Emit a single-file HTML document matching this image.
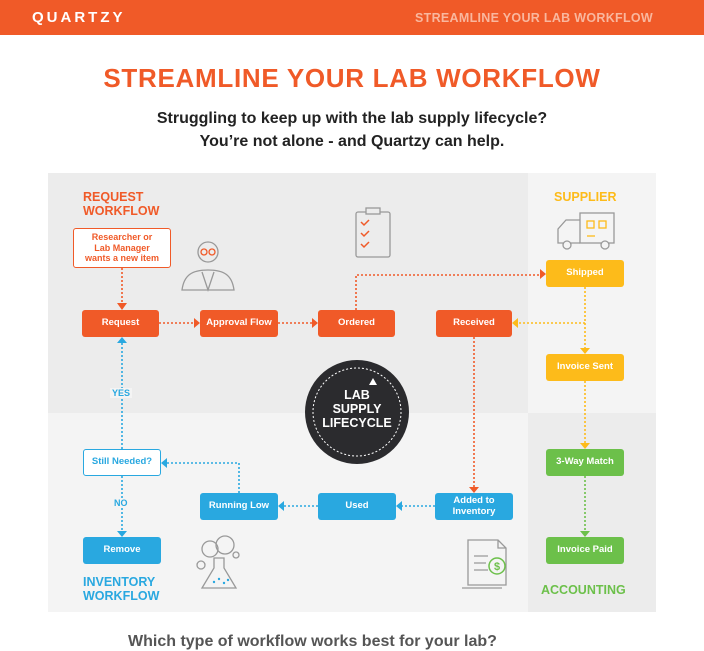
<!DOCTYPE html>
<html><head><meta charset="utf-8"><style>
*{margin:0;padding:0;box-sizing:border-box}
body{width:704px;height:640px;overflow:hidden;background:#fff;font-family:"Liberation Sans",sans-serif;position:relative}
.a{position:absolute}
.b{position:absolute;display:flex;align-items:center;justify-content:center;text-align:center;color:#fff;font-weight:bold;font-size:9.5px;border-radius:3px;line-height:1.15}
.o{background:#f05a28}.y{background:#fdbb1a}.g{background:#6cc04a}.bl{background:#29a8e0}
.h{font-weight:bold;font-size:12.5px;line-height:14px}
</style></head><body>
<div class="a" style="left:0;top:0;width:704px;height:35px;background:#f05a28"></div>
<div class="a" style="left:32px;top:9px;color:#fff;font-weight:bold;font-size:15px;letter-spacing:3px">QUARTZY</div>
<div class="a" style="left:415px;top:11px;color:#f9b79e;font-weight:bold;font-size:12.5px;letter-spacing:.3px">STREAMLINE YOUR LAB WORKFLOW</div>
<div class="a" style="left:0;width:704px;top:63px;text-align:center;color:#f05a28;font-weight:bold;font-size:26px;letter-spacing:.7px">STREAMLINE YOUR LAB WORKFLOW</div>
<div class="a" style="left:0;width:704px;top:107px;text-align:center;color:#222;font-weight:bold;font-size:16px;line-height:23px">Struggling to keep up with the lab supply lifecycle?<br>You’re not alone - and Quartzy can help.</div>

<div class="a" style="left:48px;top:173px;width:480px;height:240px;background:#ececec"></div>
<div class="a" style="left:48px;top:413px;width:480px;height:199px;background:#f4f4f4"></div>
<div class="a" style="left:528px;top:173px;width:128px;height:240px;background:#f4f4f4"></div>
<div class="a" style="left:528px;top:413px;width:128px;height:199px;background:#ececec"></div>

<svg class="a" style="left:0;top:0" width="704" height="640">
<g fill="none" stroke-width="1.6" stroke-dasharray="2,2">
<path d="M122 268V304" stroke="#f05a28"/>
<path d="M159 323H194M278 323H312" stroke="#f05a28"/>
<path d="M356 310V275H540" stroke="#f05a28"/>
<path d="M474 337V487" stroke="#f05a28"/>
<path d="M585 287V348M585 381V443M585 323H518" stroke="#fdbb1a"/>
<path d="M585 476V531" stroke="#6cc04a"/>
<path d="M435 506H402M318 506H284M239 493V463H167M122 449V343M122 476V531" stroke="#29a8e0"/>
</g>
<g>
<path d="M117 303h10l-5 7z M194 318v10l6-5z M312 318v10l6-5z M540 269v10l6-5z M469 487h10l-5 6z" fill="#f05a28"/>
<path d="M580 348h10l-5 6z M580 443h10l-5 6z M518 318v10l-6-5z" fill="#fdbb1a"/>
<path d="M580 531h10l-5 6z" fill="#6cc04a"/>
<path d="M402 501v10l-6-5z M284 501v10l-6-5z M167 458v10l-6-5z M117 531h10l-5 6z M117 343h10l-5-6z" fill="#29a8e0"/>
</g>
<circle cx="357" cy="412" r="52" fill="#2b2b2e"/>
<circle cx="357" cy="412" r="44" fill="none" stroke="#fff" stroke-width="1" stroke-dasharray="2,2"/>
<path d="M373 378l4 7h-8z" fill="#fff"/>
<g fill="none" stroke="#999" stroke-width="1.3">
<circle cx="208" cy="252" r="10"/>
<path d="M182 290c2-15 10-20 26-20s24 5 26 20z M202 272l6 18 6-18"/>
</g>
<g fill="none" stroke="#f05a28" stroke-width="1.3"><circle cx="204" cy="252" r="3"/><circle cx="212" cy="252" r="3"/></g>
<rect x="356" y="212" width="34" height="45" rx="2" fill="none" stroke="#999" stroke-width="1.3"/>
<rect x="366" y="208" width="14" height="6" fill="#ececec" stroke="#999" stroke-width="1.3"/>
<path d="M361 222l3 3 5-5M361 233l3 3 5-5M361 244l3 3 5-5" stroke="#f05a28" stroke-width="1.5" fill="none"/>
<g fill="none" stroke="#999" stroke-width="1.3">
<rect x="580" y="213" width="34" height="30"/>
<path d="M580 243h-22v-14l8-9h14"/>
<circle cx="567" cy="245" r="4" fill="#f4f4f4"/><circle cx="605" cy="245" r="4" fill="#f4f4f4"/>
</g>
<g fill="none" stroke="#fdbb1a" stroke-width="1.3"><rect x="587" y="221" width="7" height="7"/><rect x="599" y="221" width="7" height="7"/><path d="M587 236h8"/></g>
<g fill="none" stroke="#999" stroke-width="1.3">
<circle cx="210" cy="549" r="8"/><circle cx="225" cy="545" r="9"/><circle cx="201" cy="565" r="4"/><circle cx="236" cy="555" r="3"/>
<path d="M214 558h10v10l12 20h-34l12-20z"/>
</g>
<g fill="#29a8e0"><circle cx="214" cy="582" r="1.2"/><circle cx="219" cy="579" r="1.2"/><circle cx="224" cy="583" r="1.2"/><circle cx="228" cy="580" r="1.2"/></g>
<g fill="none" stroke="#999" stroke-width="1.3">
<path d="M468 540h30l8 8v37h-38z M498 540v8h8"/>
<path d="M474 556h14M474 563h12M474 570h14"/>
<path d="M462 588h40"/>
</g>
<circle cx="497" cy="566" r="8" fill="#f4f4f4" stroke="#6cc04a" stroke-width="1.5"/>
<text x="497" y="570" text-anchor="middle" font-size="11" font-weight="bold" fill="#6cc04a" font-family="Liberation Sans">$</text>
</svg>

<div class="a h" style="left:83px;top:190px;color:#f05a28">REQUEST<br>WORKFLOW</div>
<div class="b" style="left:73px;top:228px;width:98px;height:40px;background:#fff;border:1.5px solid #f05a28;color:#f05a28;font-size:9px">Researcher or<br>Lab Manager<br>wants a new item</div>
<div class="b o" style="left:82px;top:310px;width:77px;height:27px">Request</div>
<div class="b o" style="left:200px;top:310px;width:78px;height:27px">Approval Flow</div>
<div class="b o" style="left:318px;top:310px;width:77px;height:27px">Ordered</div>
<div class="b o" style="left:436px;top:310px;width:76px;height:27px">Received</div>
<div class="a h" style="left:554px;top:190px;color:#fdbb1a">SUPPLIER</div>
<div class="b y" style="left:546px;top:260px;width:78px;height:27px">Shipped</div>
<div class="b y" style="left:546px;top:354px;width:78px;height:27px">Invoice Sent</div>
<div class="b g" style="left:546px;top:449px;width:78px;height:27px">3-Way Match</div>
<div class="b g" style="left:546px;top:537px;width:78px;height:27px">Invoice Paid</div>
<div class="a h" style="left:541px;top:583px;color:#6cc04a">ACCOUNTING</div>
<div class="a" style="left:305px;top:388px;width:104px;text-align:center;color:#fff;font-weight:bold;font-size:12.5px;line-height:14px">LAB<br>SUPPLY<br>LIFECYCLE</div>
<div class="a" style="left:110px;top:388px;background:#f4f4f4;color:#29a8e0;font-weight:bold;font-size:9px;padding:0 2px">YES</div>
<div class="b" style="left:83px;top:449px;width:78px;height:27px;background:#fff;border:1.5px solid #29a8e0;color:#29a8e0">Still Needed?</div>
<div class="a" style="left:112px;top:498px;background:#f4f4f4;color:#29a8e0;font-weight:bold;font-size:9px;padding:0 2px">NO</div>
<div class="b bl" style="left:83px;top:537px;width:78px;height:27px">Remove</div>
<div class="b bl" style="left:200px;top:493px;width:78px;height:27px">Running Low</div>
<div class="b bl" style="left:318px;top:493px;width:78px;height:27px">Used</div>
<div class="b bl" style="left:435px;top:493px;width:78px;height:27px">Added to<br>Inventory</div>
<div class="a h" style="left:83px;top:575px;color:#29a8e0">INVENTORY<br>WORKFLOW</div>
<div class="a" style="left:128px;top:633px;color:#555;font-weight:bold;font-size:16px;white-space:nowrap">Which type of workflow works best for your lab?</div>
</body></html>
